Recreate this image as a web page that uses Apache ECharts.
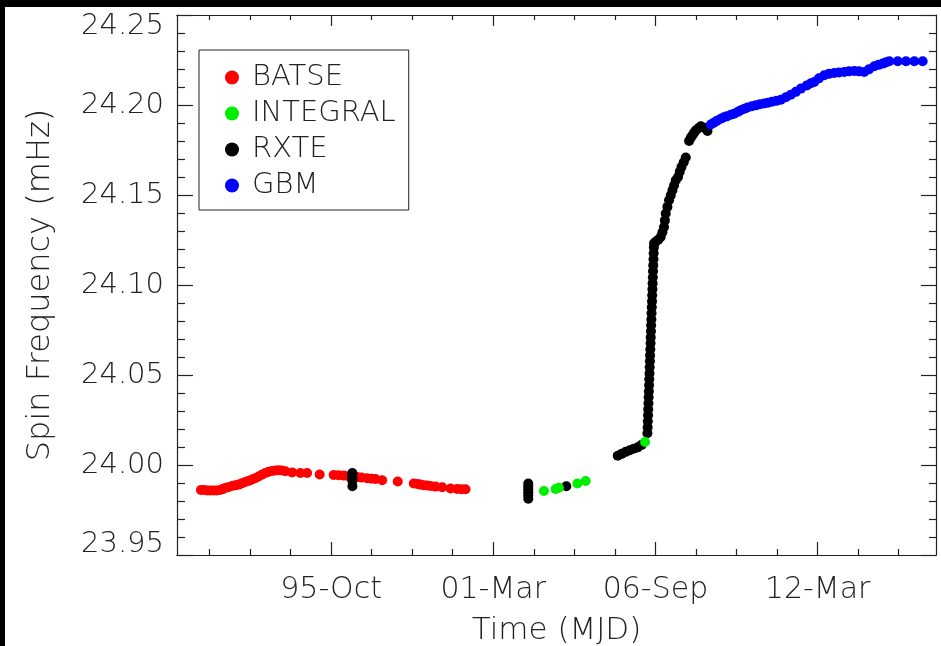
<!DOCTYPE html>
<html>
<head>
<meta charset="utf-8">
<script src="https://cdn.jsdelivr.net/npm/echarts@6/dist/echarts.min.js"></script>
<style>
html, body { margin: 0; padding: 0; background: #fff; }
#main { width: 941px; height: 646px; }
</style>
</head>
<body>
<div id="main"></div>
<script>
// 数据 (MJD, mHz)
var batseT = [48395,48436,48473,48510,48551,48590,48633,48664,48695,48732,48778,48818,48859,48899,48942,48985,49025,49065,49106,49146,49189,49230,49272,49312,49353,49393,49436,49519,49621,49704,49859,50032,50090,50156,50214,50321,50374,50444,50498,50547,50630,50822,51020,51065,51102,51140,51185,51226,51288,51370,51473,51556,51609,51658];
var batseF = [23.9861,23.9861,23.9859,23.9858,23.9858,23.9859,23.9861,23.9866,23.9872,23.9877,23.9883,23.9887,23.9891,23.9898,23.9906,23.9912,23.9919,23.9927,23.9936,23.9946,23.9956,23.9962,23.9967,23.9969,23.9971,23.9969,23.9965,23.9959,23.9956,23.9956,23.9947,23.9944,23.9943,23.9941,23.9938,23.9933,23.9930,23.9926,23.9924,23.9922,23.9915,23.9908,23.9897,23.9894,23.9891,23.9888,23.9886,23.9883,23.9880,23.9876,23.9869,23.9867,23.9865,23.9865];

var integralT = [52625,52769,52810,53037,53140,53872];
var integralF = [23.9856,23.9867,23.9874,23.9897,23.9911,24.0128];

var rxteT = [50263,50263,50263,50263,50263,50263,
  52432,52432,52432,52432,52432,52432,52901,
  53535,53584,53634,53683,53732,53782,53831,
  53901,53904,53906,53909,53911,53914,53916,53919,53922,53924,53927,53929,53932,53934,53937,53940,53942,53945,53947,53950,53952,53955,53958,53960,53963,53965,53968,53970,53973,53976,53978,53981,53983,
  54004,54035,54065,54086,54106,54117,54127,54148,54168,54189,54210,54230,54251,54279,54300,54321,54349,54374,54415,54436,54457,54477,54498,54529,54560,54597,54642];
var rxteF = [23.9956,23.9945,23.9933,23.9923,23.9911,23.9882,
  23.9897,23.9882,23.9865,23.9848,23.9832,23.9813,23.9882,
  24.0051,24.0062,24.0073,24.0082,24.0090,24.0098,24.0112,
  24.0176,24.0209,24.0243,24.0276,24.0309,24.0343,24.0376,24.0409,24.0443,24.0476,24.0509,24.0543,24.0576,24.0609,24.0643,24.0676,24.0709,24.0743,24.0776,24.0809,24.0843,24.0876,24.0909,24.0943,24.0976,24.1009,24.1043,24.1076,24.1109,24.1143,24.1176,24.1209,24.1232,
  24.1240,24.1251,24.1267,24.1293,24.1322,24.1359,24.1397,24.1434,24.1471,24.1498,24.1526,24.1554,24.1582,24.1600,24.1629,24.1656,24.1682,24.1708,24.1800,24.1818,24.1832,24.1846,24.1859,24.1871,24.1882,24.1874,24.1856];

var gbmT = [54683,54720,54757,54807,54844,54881,54930,54971,55017,55053,55097,55136,55189,55238,55288,55341,55387,55436,55491,55547,55609,55670,55732,55794,55868,55917,55958,56016,56082,56140,56205,56264,56329,56387,56452,56510,56575,56633,56699,56751,56803,56844,56884,56988,57090,57193,57296];
var gbmF = [24.1892,24.1901,24.1912,24.1924,24.1932,24.1937,24.1946,24.1952,24.1962,24.1971,24.1979,24.1986,24.1993,24.1998,24.2004,24.2008,24.2013,24.2018,24.2023,24.2029,24.2043,24.2057,24.2073,24.2091,24.2109,24.2121,24.2128,24.2148,24.2165,24.2173,24.2178,24.2181,24.2183,24.2187,24.2189,24.2187,24.2183,24.2198,24.2215,24.2223,24.2230,24.2237,24.2243,24.2243,24.2243,24.2243,24.2243];

var xMajor = [50000,52000,54000,56000];
var xLabels = ['95-Oct','01-Mar','06-Sep','12-Mar'];
var xMinor = [48500,49000,49500,50500,51000,51500,52500,53000,53500,54500,55000,55500,56500,57000];
var X_MIN = 48100, X_MAX = 57460;

function zip(t, f) {
    var out = [];
    for (var i = 0; i < t.length; i++) out.push([t[i], f[i]]);
    return out;
}

var FONT = 'DejaVu Sans';
var INK = '#222';
var lineSty = { color: INK, width: 1.2 };

function xAxisOf(pos, ticks, len, labels) {
    return {
        type: 'value', position: pos, min: X_MIN, max: X_MAX,
        axisLine: { show: true, onZero: false, lineStyle: lineSty },
        axisTick: { show: true, inside: true, length: len, customValues: ticks, lineStyle: lineSty },
        splitLine: { show: false },
        axisLabel: labels ? {
            show: true, customValues: xMajor, margin: 20,
            fontFamily: FONT, fontWeight: 200, fontSize: 30, color: INK,
            formatter: function (v) { return xLabels[xMajor.indexOf(v)] || ''; }
        } : { show: false }
    };
}

var myChart = echarts.init(document.getElementById('main'));

var option = {
    backgroundColor: '#fff',
    animation: false,
    graphic: [
        { type: 'rect', shape: { x: 0, y: 0, width: 941, height: 7 }, style: { fill: '#000' }, z: 100 },
        { type: 'rect', shape: { x: 0, y: 0, width: 5, height: 646 }, style: { fill: '#000' }, z: 100 }
    ],
    grid: { left: 177, right: 5, top: 15, bottom: 91, outerBoundsMode: 'none' },
    legend: {
        data: ['BATSE', 'INTEGRAL', 'RXTE', 'GBM'],
        orient: 'vertical', left: 199, top: 50,
        backgroundColor: '#fff', borderColor: INK, borderWidth: 1,
        padding: [13, 13, 10, 26],
        itemGap: 7, itemWidth: 30, itemHeight: 14, icon: 'circle',
        textStyle: { fontFamily: FONT, fontWeight: 200, fontSize: 29, lineHeight: 29, color: INK }
    },
    xAxis: [
        xAxisOf('bottom', xMinor, 6, false),
        (function () {
            var a = xAxisOf('bottom', xMajor, 13, true);
            a.name = 'Time (MJD)';
            a.nameLocation = 'middle';
            a.nameGap = 60;
            a.nameTextStyle = { fontFamily: FONT, fontWeight: 200, fontSize: 31, color: INK };
            return a;
        })(),
        xAxisOf('top', xMinor, 5, false),
        xAxisOf('top', xMajor, 11, false)
    ],
    yAxis: [
        {
            type: 'value', position: 'left', min: 23.95, max: 24.25, interval: 0.05,
            name: 'Spin Frequency (mHz)', nameLocation: 'middle', nameGap: 120,
            nameTextStyle: { fontFamily: FONT, fontWeight: 200, fontSize: 32, color: INK },
            axisLine: { show: true, onZero: false, lineStyle: lineSty },
            axisTick: { show: true, inside: true, length: 16, lineStyle: lineSty },
            minorTick: { show: true, splitNumber: 5, length: 8, lineStyle: lineSty },
            splitLine: { show: false },
            axisLabel: {
                margin: 13, fontFamily: FONT, fontWeight: 200, fontSize: 29, color: INK,
                formatter: function (v) {
                    var s = v.toFixed(2);
                    if (s === '24.25') return '{t|' + s + '}';
                    if (s === '23.95') return '{b|' + s + '}';
                    return s;
                },
                rich: {
                    t: { fontFamily: FONT, fontWeight: 200, fontSize: 29, color: INK, padding: [22, 0, 0, 0] },
                    b: { fontFamily: FONT, fontWeight: 200, fontSize: 29, color: INK, padding: [0, 0, 22, 0] }
                }
            }
        },
        {
            type: 'value', position: 'right', min: 23.95, max: 24.25, interval: 0.05,
            axisLine: { show: true, onZero: false, lineStyle: lineSty },
            axisTick: { show: true, inside: true, length: 15, lineStyle: lineSty },
            minorTick: { show: true, splitNumber: 5, length: 7, lineStyle: lineSty },
            splitLine: { show: false },
            axisLabel: { show: false }
        }
    ],
    series: [
        { name: 'BATSE', type: 'scatter', data: zip(batseT, batseF), symbolSize: 10, itemStyle: { color: '#ff0000', opacity: 1 } },
        { name: 'RXTE', type: 'scatter', data: zip(rxteT, rxteF), symbolSize: 10, itemStyle: { color: '#000000', opacity: 1 } },
        { name: 'INTEGRAL', type: 'scatter', data: zip(integralT, integralF), symbolSize: 10, itemStyle: { color: '#00ee00', opacity: 1 } },
        { name: 'GBM', type: 'scatter', data: zip(gbmT, gbmF), symbolSize: 10, itemStyle: { color: '#0000ff', opacity: 1 } }
    ]
};

myChart.setOption(option);
</script>
</body>
</html>
